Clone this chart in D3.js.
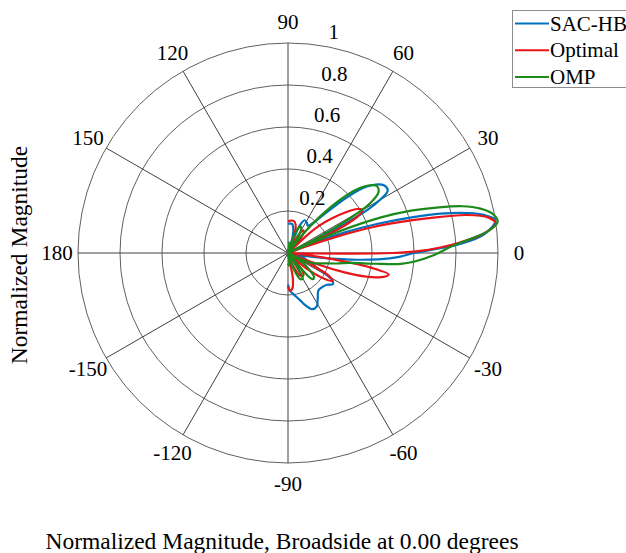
<!DOCTYPE html>
<html>
<head>
<meta charset="utf-8">
<script src="https://cdn.jsdelivr.net/npm/d3@7"></script>
<style>
  body { margin: 0; background: #fff; }
  svg text { font-family: 'Liberation Serif', 'DejaVu Serif', serif; }
</style>
</head>
<body>
<script>
// angles in degrees (0 = broadside, counter-clockwise), magnitudes normalized
const sacAngles = [-90, -87, -82, -76, -72, -67, -62, -57, -51, -45, -39, -35, -32, -29, -26, -22, -17, -13, -11,
  -9, -6, -4, -2, 0, 1.5, 3, 5.5, 9, 11, 12.5, 14.5, 16, 18, 20, 22, 23.5,
  25, 27, 29, 32, 35, 38, 41, 44, 47, 50, 54, 58, 63, 67, 70, 74, 78, 82, 86, 90]
const sacMag = [0.15, 0.18, 0.2, 0.23, 0.26, 0.29, 0.29, 0.26, 0.23, 0.23, 0.24, 0.26, 0.25, 0.2, 0.14, 0.1, 0.08, 0.04, 0,
  0.12, 0.3, 0.43, 0.53, 0.6, 0.7, 0.82, 0.94, 1.0, 0.95, 0.88, 0.75, 0.62, 0.45, 0.28, 0.1, 0,
  0.12, 0.3, 0.46, 0.56, 0.56, 0.53, 0.47, 0.36, 0.25, 0.19, 0.16, 0.17, 0.175, 0.14, 0, 0.08, 0.12, 0.14, 0.14, 0.14]

const optAngles = [-90, -87, -83, -79, -75, -68, -62, -56, -50, -46, -40, -36, -32, -29, -26, -24,
  -21, -19, -17, -14, -12, -10, -8, -6, -4,
  -1.5, -0.6, 0, 0.8, 2, 3.5, 5.5, 8, 10, 12, 14, 15.5, 17, 18.5, 20, 21,
  23, 25, 27.5, 30, 32.5, 35, 38, 41, 43, 45, 48, 52, 56, 60, 64, 70, 75, 80, 85, 90]
const optMag = [0.16, 0.18, 0.17, 0.12, 0, 0.07, 0.12, 0.13, 0.1, 0, 0.12, 0.2, 0.25, 0.22, 0.1, 0,
  0.15, 0.28, 0.38, 0.47, 0.49, 0.4, 0.22, 0.08, 0,
  0, 0.3, 0.5, 0.62, 0.72, 0.82, 0.93, 1.0, 0.97, 0.87, 0.68, 0.55, 0.42, 0.25, 0.08, 0,
  0.1, 0.25, 0.37, 0.41, 0.39, 0.34, 0.27, 0.2, 0.12, 0, 0.06, 0.12, 0.13, 0.1, 0, 0.08, 0.14, 0.155, 0.155, 0.15]

const ompAngles = [-90, -85, -80, -76, -70, -64, -60, -56, -53, -50, -47, -43, -38, -33, -28,
  -25, -22, -16, -12, -9, -7, -5.5, -4, -1, 2, 4, 6, 8.5, 11, 13, 15, 17, 19, 21, 23, 25,
  27, 29, 31, 34, 37, 40, 43, 46, 49, 52, 55, 58, 61, 65, 70, 75, 82, 86, 90]
const ompMag = [0.05, 0.06, 0.03, 0, 0.09, 0.14, 0.14, 0.08, 0, 0.1, 0.17, 0.17, 0.13, 0.08, 0,
  0.1, 0.13, 0.18, 0.24, 0.3, 0.42, 0.54, 0.6, 0.69, 0.77, 0.85, 0.95, 1.01, 0.99, 0.94, 0.86, 0.74, 0.62, 0.47, 0.25, 0,
  0.14, 0.32, 0.45, 0.52, 0.53, 0.5, 0.44, 0.34, 0.22, 0.1, 0, 0.08, 0.13, 0.14, 0.1, 0, 0.04, 0.05, 0.05]

const seriesNames = ['SAC-HB', 'Optimal', 'OMP']
const seriesColors = ['#0072BD', '#E8161B', '#1B8A1B']
const radialTicks = [0.2, 0.4, 0.6, 0.8, 1]
const angleTicks = [0, 30, 60, 90, 120, 150, 180, 210, 240, 270, 300, 330]
const angleLabels = ['0', '30', '60', '90', '120', '150', '180', '-150', '-120', '-90', '-60', '-30']

const W = 626, H = 553
const cx = 288, cy = 253, R = 210
const serif = 'Liberation Serif, DejaVu Serif, serif'

const svg = d3.select('body').append('svg')
  .attr('width', W)
  .attr('height', H)
  .attr('font-family', serif)

const scaleR = d3.scaleLinear().domain([0, 1]).range([0, R])
// d3 radial angle: clockwise from 12 o'clock
const scaleA = d3.scaleLinear().domain([0, 360]).range([Math.PI / 2, Math.PI / 2 - 2 * Math.PI])

const g = svg.append('g').attr('transform', `translate(${cx},${cy})`)

// grid circles
g.selectAll('circle.grid')
  .data(radialTicks)
  .enter()
  .append('circle')
  .attr('class', 'grid')
  .attr('r', d => scaleR(d))
  .attr('fill', 'none')
  .attr('stroke', '#606060')
  .attr('stroke-width', 1)

// spokes
g.selectAll('line.spoke')
  .data(angleTicks)
  .enter()
  .append('line')
  .attr('x1', 0).attr('y1', 0)
  .attr('x2', d => scaleR(1) * Math.sin(scaleA(d)))
  .attr('y2', d => -scaleR(1) * Math.cos(scaleA(d)))
  .attr('stroke', '#404040')
  .attr('stroke-width', 1)

// angle labels
g.selectAll('text.ang')
  .data(angleTicks)
  .enter()
  .append('text')
  .attr('x', d => 231 * Math.sin(scaleA(d)))
  .attr('y', d => -231 * Math.cos(scaleA(d)))
  .attr('text-anchor', 'middle')
  .attr('dominant-baseline', 'central')
  .attr('font-family', serif)
  .attr('font-size', 21)
  .text((d, i) => angleLabels[i])

// radial labels
const labA = scaleA(80)
g.selectAll('text.rad')
  .data(radialTicks)
  .enter()
  .append('text')
  .attr('x', d => scaleR(d) * Math.sin(labA) + 4)
  .attr('y', d => -scaleR(d) * Math.cos(labA) - 7)
  .attr('font-family', serif)
  .attr('font-size', 21)
  .text(d => d === 1 ? '1' : d3.format('.1f')(d))

// pattern curves
const line = d3.lineRadial()
  .angle(d => scaleA(d[0]))
  .radius(d => scaleR(d[1]))
  .curve(d3.curveCatmullRom.alpha(0.5))

const curves = [
  d3.zip(sacAngles, sacMag),
  d3.zip(optAngles, optMag),
  d3.zip(ompAngles, ompMag)
]

g.selectAll('path.pat')
  .data(curves)
  .enter()
  .append('path')
  .attr('d', d => line(d))
  .attr('fill', 'none')
  .attr('stroke', (d, i) => seriesColors[i])
  .attr('stroke-width', 2.2)

// legend
const leg = svg.append('g')
leg.append('rect')
  .attr('x', 512.5).attr('y', 10.5)
  .attr('width', 140).attr('height', 77)
  .attr('fill', '#fff')
  .attr('stroke', '#8c8c8c')
seriesNames.forEach((name, i) => {
  const y = 23.5 + i * 26.7
  leg.append('line')
    .attr('x1', 515).attr('x2', 549)
    .attr('y1', y).attr('y2', y)
    .attr('stroke', seriesColors[i])
    .attr('stroke-width', 2)
  leg.append('text')
    .attr('x', 550).attr('y', y + 7)
    .attr('font-family', serif)
    .attr('font-size', 21)
    .text(name)
})

// axis titles
svg.append('text')
  .attr('transform', 'translate(27,255) rotate(-90)')
  .attr('text-anchor', 'middle')
  .attr('font-family', serif)
  .attr('font-size', 23.5)
  .text('Normalized Magnitude')

svg.append('text')
  .attr('x', 282).attr('y', 549)
  .attr('text-anchor', 'middle')
  .attr('font-family', serif)
  .attr('font-size', 23.5)
  .text('Normalized Magnitude, Broadside at 0.00 degrees')
</script>
</body>
</html>
